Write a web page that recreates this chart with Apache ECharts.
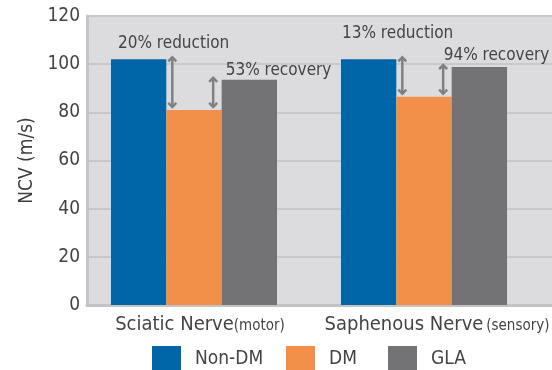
<!DOCTYPE html>
<html>
<head>
<meta charset="utf-8">
<script src="https://cdn.jsdelivr.net/npm/echarts@6/dist/echarts.min.js"></script>
<style>
  html, body { margin: 0; padding: 0; background: #ffffff; }
  #chart { width: 552px; height: 370px; }
</style>
</head>
<body>
<div id="chart"></div>
<script>
// Nerve conduction velocity by nerve and group
const categories = ['Sciatic Nerve', 'Saphenous Nerve'];
const categoryNotes = ['(motor)', '(sensory)'];
const seriesNames = ['Non-DM', 'DM', 'GLA'];
const nonDM = [102, 102];
const dm = [81, 86.5];
const gla = [93.5, 98.8];
const reductionText = ['20% reduction', '13% reduction'];
const recoveryText = ['53% recovery', '94% recovery'];
const yMin = 0, yMax = 120, yStep = 20;

// styling
const FONT = "'DejaVu Sans Condensed', 'Liberation Sans Narrow', 'DejaVu Sans', sans-serif";
const TEXT = '#444447';
const COLORS = ['#0066a8', '#f2904a', '#737376'];
const ARROW = '#808082';
const CAT_GAP = 0.278;
const reductionPos = [[7, -16], [1, -26]];
const recoveryPos = [[4, -9], [-8, -11]];
const catPadding = [[0, 0, 0, 12], [0, 0, 0, 26]];
const legendLeft = [152, 286, 388];

const chart = echarts.init(document.getElementById('chart'), null, { renderer: 'canvas' });

const arrowData = [];
for (let i = 0; i < categories.length; i++) {
  arrowData.push([i, nonDM[i], dm[i], 0]);
  arrowData.push([i, gla[i], dm[i], 1]);
}

function renderArrow(params, api) {
  const cat = api.value(0), hi = api.value(1), lo = api.value(2), side = api.value(3);
  const band = api.size([1, 0])[0];
  const barW = band * (1 - CAT_GAP) / 3;
  const base = api.coord([cat, lo]);
  const x = side === 0 ? base[0] - barW / 2 + 6 : base[0] + barW / 2 - 8.5;
  const yTop = api.coord([cat, hi])[1] - 3;
  const yBot = base[1] - 2;
  const st = { stroke: ARROW, lineWidth: 2.5, fill: null, lineJoin: 'miter' };
  return {
    type: 'group',
    children: [
      { type: 'line', shape: { x1: x, y1: yTop + 1, x2: x, y2: yBot - 1 }, style: st },
      { type: 'polyline', shape: { points: [[x - 4, yTop + 5], [x, yTop + 1], [x + 4, yTop + 5]] }, style: st },
      { type: 'polyline', shape: { points: [[x - 4, yBot - 5], [x, yBot - 1], [x + 4, yBot - 5]] }, style: st }
    ]
  };
}

const option = {
  animation: false,
  textStyle: { fontFamily: FONT },
  grid: [
    { left: 87, right: -10, top: 16, bottom: 65, show: true, backgroundColor: '#dcdcde', borderWidth: 0, outerBoundsMode: 'none', containLabel: false },
    { left: 79, width: 460, top: 16, bottom: 65, outerBoundsMode: 'none', containLabel: false }
  ],
  xAxis: [
    { gridIndex: 0, type: 'value', min: 0, max: 1,
      axisLine: { show: true, lineStyle: { color: '#c4c4c6', width: 3 } },
      axisTick: { show: false }, axisLabel: { show: false }, splitLine: { show: false } },
    { gridIndex: 1, type: 'category',
      data: categories.map((c, i) => ({ value: c, textStyle: { padding: catPadding[i] } })),
      axisLine: { show: false }, axisTick: { show: false }, splitLine: { show: false },
      axisLabel: {
        margin: 10,
        interval: 0,
        formatter: (v, i) => '{a|' + v + '}' + (i === 1 ? '{s| }' : '') + '{b|' + categoryNotes[i] + '}',
        rich: {
          a: { fontFamily: FONT, fontSize: 20, color: TEXT },
          s: { fontFamily: FONT, fontSize: 10 },
          b: { fontFamily: FONT, fontSize: 15, color: TEXT, padding: [3, 0, 0, 0] }
        }
      } }
  ],
  yAxis: [
    { gridIndex: 0, type: 'value', min: yMin, max: yMax, interval: yStep,
      name: 'NCV (m/s)', nameLocation: 'middle', nameGap: 45, nameRotate: 90,
      nameTextStyle: { fontFamily: FONT, fontSize: 19, color: '#3e3e40' },
      axisLine: { show: true, lineStyle: { color: '#c4c4c6', width: 3 } },
      axisTick: { show: false },
      axisLabel: { fontFamily: FONT, fontSize: 19, color: TEXT, margin: 7 },
      splitLine: { show: true, lineStyle: { color: '#c8c8ca', width: 2 } } },
    { gridIndex: 1, type: 'value', min: yMin, max: yMax, interval: yStep, show: false,
      splitLine: { show: false } }
  ],
  legend: seriesNames.map((n, i) => ({
    left: legendLeft[i], top: 346, padding: 0,
    itemWidth: 29, itemHeight: 26, icon: 'rect',
    textStyle: { fontFamily: FONT, fontSize: 19, color: TEXT, padding: [0, 0, 0, 9] },
    data: [n]
  })),
  series: [
    { name: seriesNames[0], type: 'bar', xAxisIndex: 1, yAxisIndex: 1,
      barGap: '0%', barCategoryGap: (CAT_GAP * 100) + '%',
      itemStyle: { color: COLORS[0] },
      data: nonDM.map((v, i) => ({
        value: v,
        label: { show: true, position: reductionPos[i], align: 'left', verticalAlign: 'middle',
          formatter: reductionText[i], fontFamily: FONT, fontSize: 17, color: TEXT }
      })) },
    { name: seriesNames[1], type: 'bar', xAxisIndex: 1, yAxisIndex: 1,
      barGap: '0%', barCategoryGap: (CAT_GAP * 100) + '%',
      itemStyle: { color: COLORS[1] }, data: dm },
    { name: seriesNames[2], type: 'bar', xAxisIndex: 1, yAxisIndex: 1,
      barGap: '0%', barCategoryGap: (CAT_GAP * 100) + '%',
      itemStyle: { color: COLORS[2] },
      data: gla.map((v, i) => ({
        value: v,
        label: { show: true, position: recoveryPos[i], align: 'left', verticalAlign: 'middle',
          formatter: recoveryText[i], fontFamily: FONT, fontSize: 17, color: TEXT }
      })) },
    { name: 'change', type: 'custom', xAxisIndex: 1, yAxisIndex: 1, z: 5,
      renderItem: renderArrow, data: arrowData, silent: true }
  ]
};

chart.setOption(option);
</script>
</body>
</html>
